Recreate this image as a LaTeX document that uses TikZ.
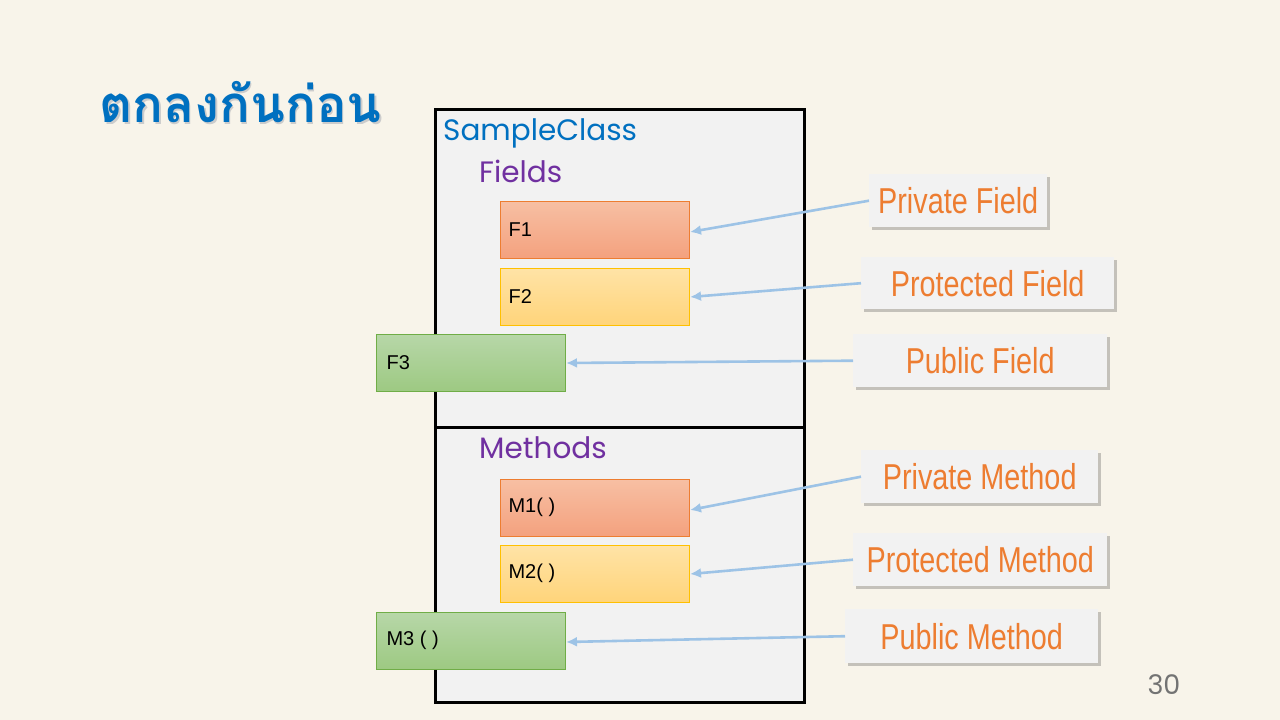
\documentclass[tikz,border=0pt]{standalone}
\usepackage{fontspec}
\setmainfont{Liberation Sans}
\newfontfamily\thaifont[Script=Thai]{Loma}
\newfontfamily\gothic{Poppins}
\newfontfamily\narrowfont[FakeStretch=0.8]{Liberation Sans}
\usetikzlibrary{shadows,arrows.meta}
\definecolor{bg}{HTML}{F8F4EA}
\definecolor{panel}{HTML}{F2F2F2}
\definecolor{titleblue}{HTML}{0070C0}
\definecolor{purp}{HTML}{7030A0}
\definecolor{orng}{HTML}{ED7D31}
\definecolor{arr}{HTML}{9DC3E6}
\definecolor{redtop}{HTML}{F7BFA3}
\definecolor{redbot}{HTML}{F4A17E}
\definecolor{yeltop}{HTML}{FFE3A6}
\definecolor{yelbot}{HTML}{FFD47A}
\definecolor{yelline}{HTML}{FFC000}
\definecolor{grntop}{HTML}{B7D7A8}
\definecolor{grnbot}{HTML}{9DC982}
\definecolor{grnline}{HTML}{70AD47}
\tikzset{
  member/.style={draw, line width=1pt, minimum width=189pt, minimum height=57pt,
    anchor=north west, inner sep=0pt},
  privbox/.style={member, draw=orng, top color=redtop, bottom color=redbot},
  protbox/.style={member, draw=yelline, top color=yeltop, bottom color=yelbot},
  pubbox/.style={member, draw=grnline, top color=grntop, bottom color=grnbot},
  mtext/.style={anchor=west, font=\fontsize{20}{22}\selectfont, text=black},
  label/.style={fill=panel, anchor=north west, inner sep=0pt,
    drop shadow={shadow xshift=3pt, shadow yshift=-3pt, opacity=0.3, fill=black!70}},
  ltext/.style={font=\narrowfont\fontsize{36}{39}\selectfont, text=orng},
  heading/.style={anchor=west, font=\gothic\fontsize{29.5}{32}\selectfont, inner sep=0pt},
  link/.style={draw=arr, line width=2.6pt, -{Latex[length=11pt,width=10pt]}},
}
\begin{document}
\begin{tikzpicture}[x=1pt,y=-1pt]
\useasboundingbox (0,0) rectangle (1280,720);
\fill[bg] (0,0) rectangle (1280,720);
% title
\node[anchor=west, text=black!20, font=\thaifont\bfseries\fontsize{51}{55}\selectfont] at (97.5,104) {ตกลงกันก่อน};
\node (title) [anchor=west, text=titleblue, font=\thaifont\bfseries\fontsize{51}{55}\selectfont] at (96,102.5) {ตกลงกันก่อน};
% class box
\node (top) [draw=black, line width=3pt, fill=panel, anchor=north west, minimum width=369pt, minimum height=318pt, inner sep=0pt] at (434,108) {};
\node (bot) [draw=black, line width=3pt, fill=panel, anchor=north west, minimum width=369pt, minimum height=275pt, inner sep=0pt] at (434,426) {};
\node (cname) [heading, text=titleblue] at (443,133) {SampleClass};
\node (fields) [heading, text=purp] at (479,171) {Fields};
\node (methods) [heading, text=purp] at (479,448) {Methods};
% members
\node (f1) [privbox] at (500,201) {};
\node [mtext] at (505,229.5) {F1};
\node (f2) [protbox] at (500,268) {};
\node [mtext] at (505,296.5) {F2};
\node (f3) [pubbox] at (376,334) {};
\node [mtext] at (383,362.5) {F3};
\node (m1) [privbox] at (500,479) {};
\node [mtext] at (505,507.5) {M1( )};
\node (m2) [protbox] at (500,545) {};
\node [mtext] at (505,573.5) {M2( )};
\node (m3) [pubbox] at (376,612) {};
\node [mtext] at (383,640.5) {M3 ( )};
% labels
\node (lpf) [label, minimum width=178pt, minimum height=53pt] at (869,174) {};
\node at (lpf.center) [ltext] {Private Field};
\node (lprf) [label, minimum width=253pt, minimum height=52pt] at (861,257) {};
\node at (lprf.center) [ltext] {Protected Field};
\node (lpuf) [label, minimum width=254pt, minimum height=53pt] at (853,334) {};
\node at (lpuf.center) [ltext] {Public Field};
\node (lpm) [label, minimum width=237pt, minimum height=53pt] at (861,450) {};
\node at (lpm.center) [ltext] {Private Method};
\node (lprm) [label, minimum width=254pt, minimum height=53pt] at (853,533) {};
\node at (lprm.center) [ltext] {Protected Method};
\node (lpum) [label, minimum width=253pt, minimum height=54pt] at (845,609) {};
\node at (lpum.center) [ltext] {Public Method};
% connectors
\draw[link] (lpf.west) -- ([yshift=-2pt]f1.east);
\draw[link] (lprf.west) -- (f2.east);
\draw[link] (lpuf.west) -- (f3.east);
\draw[link] (lpm.west) -- ([yshift=-2pt]m1.east);
\draw[link] (lprm.west) -- (m2.east);
\draw[link] (lpum.west) -- ([yshift=-1pt]m3.east);
% page number
\node (pg) [text=black!55, font=\gothic\fontsize{27}{29}\selectfont] at (1164,685) {30};
\end{tikzpicture}
\end{document}
